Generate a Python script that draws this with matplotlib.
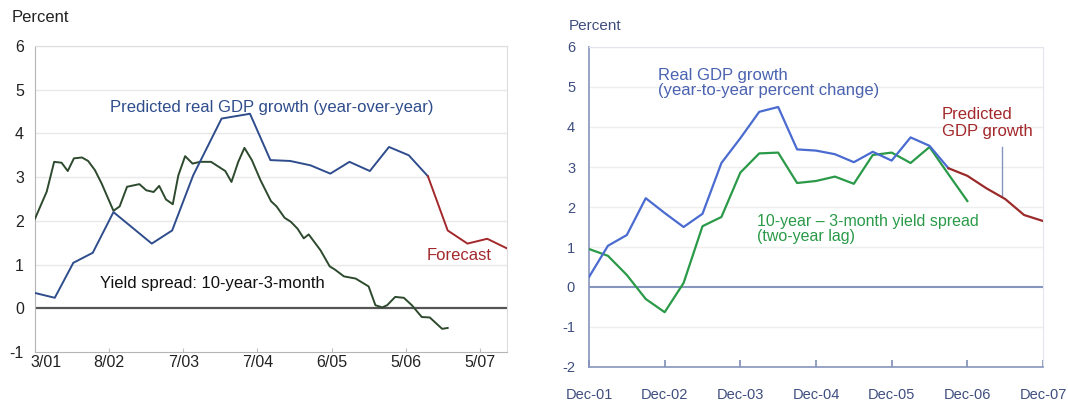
import matplotlib
matplotlib.use("Agg")
import matplotlib.pyplot as plt
import matplotlib.transforms as mtransforms

plt.rcParams['font.family'] = ['Liberation Sans', 'DejaVu Sans']
plt.rcParams['axes.unicode_minus'] = False

# ---- left panel: monthly index axis, ticks every 12 points
left_ticks = [0, 12, 24, 36, 48, 60, 72]
left_tick_labels = ["3/01", "8/02", "7/03", "7/04", "6/05", "5/06", "5/07"]

gdp_pred_x = [0, 3.2, 6.2, 9.35, 12.7, 18.9, 22.2, 25.6, 30.2, 34.8, 38.1,
              41.3, 44.6, 47.8, 50.9, 54.2, 57.3, 60.5, 63.6]
gdp_pred_y = [0.35, 0.24, 1.04, 1.27, 2.2, 1.48, 1.78, 3.04, 4.34, 4.45, 3.39,
              3.37, 3.27, 3.08, 3.35, 3.14, 3.69, 3.5, 3.02]

forecast_x = [63.6, 66.8, 70.0, 73.2, 76.4]
forecast_y = [3.02, 1.78, 1.48, 1.59, 1.37]

spread_x = [0, 1.9, 3.1, 4.3, 5.3, 6.3, 7.6, 8.6, 9.7, 10.8, 12.7, 13.7, 14.9,
            16.9, 18.0, 19.2, 20.1, 21.2, 22.3, 23.2, 24.3, 25.5, 26.7, 28.5,
            30.8, 31.8, 32.9, 33.9, 35.1, 36.5, 38.2, 39.1, 40.4, 41.4, 42.5,
            43.5, 44.3, 46.2, 47.7, 48.6, 50.0, 51.9, 54.0, 55.1, 56.2, 57.0,
            58.3, 59.7, 61.0, 62.6, 63.9, 65.9, 66.8]
spread_y = [2.05, 2.67, 3.35, 3.33, 3.14, 3.43, 3.45, 3.37, 3.16, 2.85, 2.23,
            2.33, 2.78, 2.84, 2.70, 2.66, 2.80, 2.49, 2.38, 3.04, 3.48, 3.31,
            3.35, 3.35, 3.14, 2.89, 3.35, 3.67, 3.39, 2.93, 2.45, 2.33, 2.07,
            1.98, 1.82, 1.60, 1.69, 1.33, 0.96, 0.88, 0.73, 0.68, 0.50, 0.07,
            0.02, 0.07, 0.26, 0.24, 0.07, -0.20, -0.21, -0.47, -0.45]

# ---- right panel: quarterly, Dec-01 = 0
right_ticks = [0, 4, 8, 12, 16, 20, 24]
right_tick_labels = ["Dec-01", "Dec-02", "Dec-03", "Dec-04", "Dec-05", "Dec-06", "Dec-07"]

real_gdp_q = list(range(20))
real_gdp = [0.25, 1.03, 1.3, 2.22, 1.85, 1.5, 1.83, 3.1, 3.72, 4.38, 4.5, 3.44,
            3.41, 3.32, 3.12, 3.38, 3.16, 3.74, 3.53, 2.97]

pred_gdp_q = [19, 20, 21, 22, 23, 24]
pred_gdp = [2.97, 2.78, 2.47, 2.2, 1.8, 1.65]

lag_spread_q = list(range(21))
lag_spread = [0.95, 0.78, 0.3, -0.3, -0.63, 0.1, 1.52, 1.75, 2.86, 3.34, 3.36,
              2.6, 2.65, 2.76, 2.58, 3.3, 3.36, 3.1, 3.5, 2.82, 2.15]

fig = plt.figure(figsize=(10.68, 4.03), dpi=100)

# ================= left chart
ax1 = fig.add_axes([35 / 1068, 1 - 352 / 403, 472 / 1068, 306 / 403])
ax1.set_xlim(0, 76.4)
ax1.set_ylim(-1, 6)
ax1.set_yticks(range(-1, 7))
ax1.set_xticks(left_ticks)
ax1.set_xticklabels(left_tick_labels)
ax1.tick_params(axis='both', labelsize=11.5, colors='#c0c0c0', labelcolor='#222222')
ax1.tick_params(axis='x', direction='in', length=3, pad=2)
ax1.tick_params(axis='y', length=0, pad=8)
first = ax1.get_xticklabels()[0]
first.set_ha('left')
first.set_transform(first.get_transform() +
                    mtransforms.ScaledTranslation(-5 / 100, 0, fig.dpi_scale_trans))
for y in range(1, 7):
    ax1.axhline(y, color='#e8e8e8', lw=1, zorder=0)
ax1.axhline(0, color='#555555', lw=1.6, zorder=1)
for s in ['top', 'right']:
    ax1.spines[s].set_color('#dddddd')
for s in ['left', 'bottom']:
    ax1.spines[s].set_color('#b5b5b5')

ax1.plot(spread_x, spread_y, color='#2e4a2e', lw=1.4, zorder=3)
ax1.plot(gdp_pred_x, gdp_pred_y, color='#2f4d8c', lw=1.4, zorder=3)
ax1.plot(forecast_x, forecast_y, color='#a3282c', lw=1.4, zorder=3)

ax1.text(12.1, 4.6, "Predicted real GDP growth (year-over-year)", color='#2f4d8c',
         fontsize=12, va='center', ha='left')
ax1.text(10.5, 0.57, "Yield spread: 10-year-3-month", color='#111111',
         fontsize=12, va='center', ha='left')
ax1.text(63.4, 1.21, "Forecast", color='#a3282c', fontsize=12, va='center', ha='left')
fig.text(12 / 1068, 1 - 18 / 403, "Percent", fontsize=12, color='#222222',
         ha='left', va='center')

# ================= right chart
tick_col = '#3e4e7e'
ax2 = fig.add_axes([589 / 1068, 1 - 367 / 403, 454 / 1068, 320 / 403])
ax2.set_xlim(0, 24)
ax2.set_ylim(-2, 6)
ax2.set_yticks(range(-2, 7))
ax2.set_xticks(right_ticks)
ax2.set_xticklabels(right_tick_labels, family=['Liberation Sans Narrow', 'Liberation Sans'],
                    fontsize=11)
ax2.tick_params(axis='both', labelsize=10.5, colors='#7f8db3', labelcolor=tick_col)
ax2.tick_params(axis='x', direction='in', length=5, pad=15, width=1.2)
ax2.tick_params(axis='y', length=0, pad=10)
for y in range(-1, 7):
    if y != 0:
        ax2.axhline(y, color='#eeeeee', lw=1, zorder=0)
ax2.axhline(0, color='#8595bd', lw=1.5, zorder=1)
for s in ['top', 'right']:
    ax2.spines[s].set_color('#e2e5ee')
for s in ['left', 'bottom']:
    ax2.spines[s].set_color('#8595bd')
    ax2.spines[s].set_linewidth(1.2)

ax2.plot(lag_spread_q, lag_spread, color='#2a9a48', lw=1.6, zorder=3)
ax2.plot(real_gdp_q, real_gdp, color='#4a6bd0', lw=1.6, zorder=3)
ax2.plot(pred_gdp_q, pred_gdp, color='#9b2a2a', lw=1.6, zorder=3)

ax2.text(3.65, 5.1, "Real GDP growth\n(year-to-year percent change)", color='#4a62b0',
         fontsize=12, va='center', ha='left', linespacing=1.0)
ax2.text(18.66, 4.1, "Predicted\nGDP growth", color='#a3282c',
         fontsize=12, va='center', ha='left', linespacing=1.1)
ax2.plot([21.83, 21.83], [3.5, 2.25], color='#8595bd', lw=1, zorder=2)
ax2.text(8.88, 1.44, "10-year \u2013 3-month yield spread\n(two-year lag)", color='#2a9a48',
         fontsize=11.5, va='center', ha='left', linespacing=1.0)
fig.text(569 / 1068, 1 - 26 / 403, "Percent", fontsize=11, color=tick_col,
         ha='left', va='center')

fig.savefig("out.png", dpi=100)
